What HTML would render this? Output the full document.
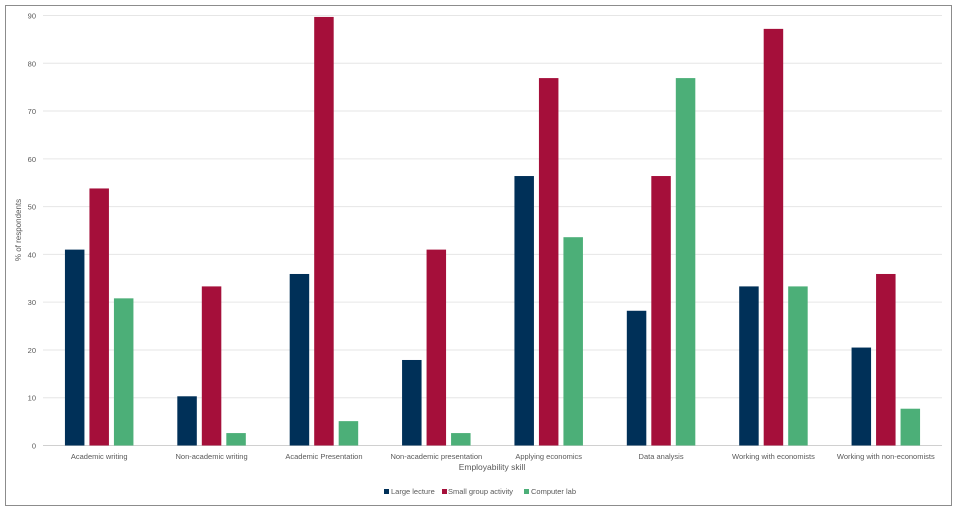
<!DOCTYPE html>
<html><head><meta charset="utf-8"><style>
body{margin:0;background:#fff;font-family:"Liberation Sans",sans-serif}
svg text{font-family:"Liberation Sans",sans-serif;fill:#595959}
</style></head><body>
<svg id="chart" width="957" height="511">
<rect x="5.5" y="5.5" width="946" height="500" fill="#fff" stroke="#8c8c8c"/>
<g id="grid"></g><g id="bars"></g><g id="labels"></g>
<text x="21" y="230" font-size="8" text-anchor="middle" transform="rotate(-90 21 230)">% of respondents</text>
<text x="492" y="470" font-size="8.5" text-anchor="middle">Employability skill</text>
<g>
<rect x="384" y="489" width="5" height="5" fill="#003058"/>
<text x="391" y="494" font-size="7.5">Large lecture</text>
<rect x="442" y="489" width="5" height="5" fill="#a50f3a"/>
<text x="448" y="494" font-size="7.5">Small group activity</text>
<rect x="524" y="489" width="5" height="5" fill="#4caf78"/>
<text x="531" y="494" font-size="7.5">Computer lab</text>
</g>
</svg>
<script>
const categories=["Academic writing","Non-academic writing","Academic Presentation","Non-academic presentation","Applying economics","Data analysis","Working with economists","Working with non-economists"];
const largeLecture=[41,10.3,35.9,17.9,56.4,28.2,33.3,20.5];
const smallGroup=[53.8,33.3,89.7,41,76.9,56.4,87.2,35.9];
const computerLab=[30.8,2.6,5.1,2.6,43.6,76.9,33.3,7.7];
const yTicks=[0,10,20,30,40,50,60,70,80,90];
const NS="http://www.w3.org/2000/svg";
const x0=43,x1=942,y0=445.5,yTop=15.5,ymax=90;
const y=v=>y0-(v/ymax)*(y0-yTop);
const step=(x1-x0)/categories.length;
const g=document.getElementById('grid'),b=document.getElementById('bars'),l=document.getElementById('labels');
function mk(tag,attrs,parent){const e=document.createElementNS(NS,tag);for(const k in attrs)e.setAttribute(k,attrs[k]);parent.appendChild(e);return e;}
yTicks.forEach(t=>{
  const ln=mk('line',{x1:x0,x2:x1,y1:y(t),y2:y(t),stroke:t===0?'#d0d0d0':'#e6e6e6','stroke-width':1},g);
  
  
  const tx=mk('text',{x:36,y:y(t)+3,'font-size':7.5,'text-anchor':'end'},g);
  tx.textContent=t;
  
  
});
const series=[[largeLecture,'#003058','large-lecture'],[smallGroup,'#a50f3a','small-group'],[computerLab,'#4caf78','computer-lab']];
const bw=19.5,gap=5;
categories.forEach((c,i)=>{
  const cx=x0+step*(i+0.5);
  series.forEach((s,j)=>{
    const bx=cx+(j-1)*(bw+gap)-bw/2;
    const r=mk('rect',{x:bx,y:y(s[0][i]),width:bw,height:y0-y(s[0][i]),fill:s[1]},b);
    
    
  });
  const t=mk('text',{x:cx,y:459,'font-size':7.5,'text-anchor':'middle'},l);
  t.textContent=c;
  
  
});
</script>
</body></html>
